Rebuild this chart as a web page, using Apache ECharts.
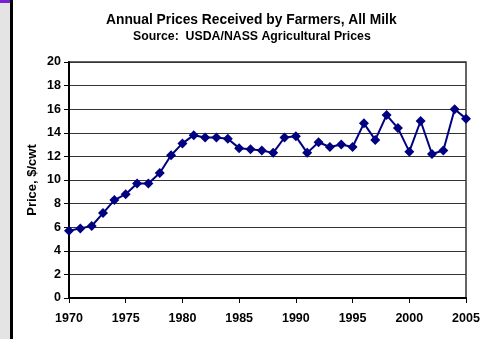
<!DOCTYPE html>
<html>
<head>
<meta charset="utf-8">
<script src="https://cdn.jsdelivr.net/npm/echarts@6/dist/echarts.min.js"></script>
<style>
  html, body { margin: 0; padding: 0; background: #fff; }
  #chart { width: 484px; height: 339px; }
</style>
</head>
<body>
<div id="chart"></div>
<script>
// data
const years = [1970, 1971, 1972, 1973, 1974, 1975, 1976, 1977, 1978, 1979,
               1980, 1981, 1982, 1983, 1984, 1985, 1986, 1987, 1988, 1989,
               1990, 1991, 1992, 1993, 1994, 1995, 1996, 1997, 1998, 1999,
               2000, 2001, 2002, 2003, 2004, 2005];
const prices = [5.7, 5.9, 6.1, 7.2, 8.3, 8.8, 9.7, 9.7, 10.6, 12.1,
                13.1, 13.8, 13.6, 13.6, 13.5, 12.7, 12.6, 12.5, 12.3, 13.6,
                13.7, 12.3, 13.2, 12.8, 13.0, 12.8, 14.8, 13.4, 15.5, 14.4,
                12.4, 15.0, 12.2, 12.5, 16.0, 15.2];

const titleText = 'Annual Prices Received by Farmers, All Milk';
const subText = 'Source:  USDA/NASS Agricultural Prices';
const yName = 'Price, $/cwt';

const font = 'Liberation Sans, Arial, sans-serif';
const chart = echarts.init(document.getElementById('chart'), null, { renderer: 'canvas' });

const option = {
  backgroundColor: '#fff',
  animation: false,
  title: [
    { text: titleText, left: 101, top: 8,
      textStyle: { fontFamily: font, fontSize: 13.8, fontWeight: 'bold', color: '#000' } },
    { text: subText, left: 128, top: 26,
      textStyle: { fontFamily: font, fontSize: 12.3, fontWeight: 'bold', color: '#000' } }
  ],
  graphic: [
    // left page strip
    { type: 'rect', shape: { x: 0, y: 0, width: 10, height: 339 }, style: { fill: '#e4e4e4' } },
    { type: 'rect', shape: { x: 0, y: 0, width: 10, height: 3 }, style: { fill: '#7a1fd6' } },
    { type: 'rect', shape: { x: 10, y: 0, width: 3, height: 339 }, style: { fill: '#000' } }
  ],
  grid: { left: 69, right: 18, top: 62, bottom: 41, show: true,
          borderColor: '#333', borderWidth: 1.5, backgroundColor: '#fff' },
  xAxis: {
    type: 'value', min: 1970, max: 2005, interval: 5,
    axisLine: { lineStyle: { color: '#000', width: 2 } },
    axisTick: { show: true, inside: false, length: 5, lineStyle: { color: '#000', width: 1 } },
    splitLine: { show: false },
    axisLabel: { margin: 14, fontFamily: font, fontSize: 12.5, fontWeight: 'bold', color: '#000',
                 formatter: v => String(v) }
  },
  yAxis: {
    type: 'value', min: 0, max: 20, interval: 2,
    name: yName, nameLocation: 'middle', nameGap: 30, nameMoveOverlap: false,
    nameTextStyle: { fontFamily: font, fontSize: 13, fontWeight: 'bold', color: '#000' },
    axisLine: { show: true, lineStyle: { color: '#000', width: 2 } },
    axisTick: { show: true, inside: false, length: 5, lineStyle: { color: '#000', width: 1 } },
    splitLine: { show: true, lineStyle: { color: '#333', width: 1 } },
    axisLabel: { margin: 8, fontFamily: font, fontSize: 12.5, fontWeight: 'bold', color: '#000' }
  },
  series: [{
    type: 'line',
    data: years.map((y, i) => [y, prices[i]]),
    symbol: 'diamond', symbolSize: 10,
    lineStyle: { color: '#000080', width: 2 },
    itemStyle: { color: '#000080' }
  }]
};
chart.setOption(option);
</script>
</body>
</html>
